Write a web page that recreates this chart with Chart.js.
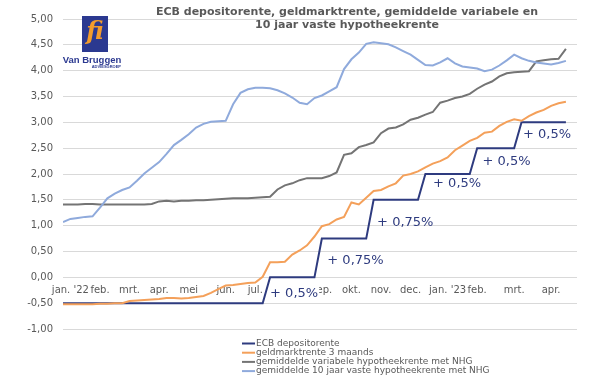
<!DOCTYPE html>
<html>
<head>
<meta charset="utf-8">
<script src="https://cdn.jsdelivr.net/npm/chart.js@4"></script>
<style>
  body { margin: 0; background: #fff; }
</style>
</head>
<body>
<canvas id="myChart" width="600" height="384"></canvas>
<script>
// titel en as-labels
const titleLines = ['ECB depositorente, geldmarktrente, gemiddelde variabele en', '10 jaar vaste hypotheekrente'];
const monthLabels = ["jan. '22", 'feb.', 'mrt.', 'apr.', 'mei', 'jun.', 'jul.', 'aug.', 'sep.', 'okt.', 'nov.', 'dec.', "jan. '23", 'feb.', 'mrt.', 'apr.'];
const monthWeek = [1, 5, 9, 13, 17, 22, 26, 30, 35, 39, 43, 47, 52, 56, 61, 66];

// weekcijfers (week 0 = half jan. 2022)
const ecbRate = [
  -0.5, -0.5, -0.5, -0.5, -0.5, -0.5, -0.5, -0.5, -0.5, -0.5,
  -0.5, -0.5, -0.5, -0.5, -0.5, -0.5, -0.5, -0.5, -0.5, -0.5,
  -0.5, -0.5, -0.5, -0.5, -0.5, -0.5, -0.5, -0.5, 0, 0,
  0, 0, 0, 0, 0, 0.75, 0.75, 0.75, 0.75, 0.75,
  0.75, 0.75, 1.5, 1.5, 1.5, 1.5, 1.5, 1.5, 1.5, 2,
  2, 2, 2, 2, 2, 2, 2.5, 2.5, 2.5, 2.5,
  2.5, 2.5, 3, 3, 3, 3, 3, 3, 3
];
const euribor3m = [
  -0.52, -0.52, -0.52, -0.52, -0.52, -0.51, -0.51, -0.50, -0.50, -0.46,
  -0.45, -0.44, -0.43, -0.42, -0.40, -0.40, -0.41, -0.40, -0.38, -0.36,
  -0.30, -0.23, -0.16, -0.15, -0.13, -0.11, -0.10, 0.01, 0.29, 0.29,
  0.30, 0.44, 0.52, 0.62, 0.79, 0.99, 1.03, 1.12, 1.17, 1.45,
  1.41, 1.54, 1.67, 1.69, 1.76, 1.82, 1.97, 2.00, 2.05, 2.13,
  2.20, 2.25, 2.32, 2.46, 2.55, 2.64, 2.70, 2.80, 2.82, 2.93,
  3.01, 3.06, 3.03, 3.12, 3.19, 3.24, 3.32, 3.37, 3.40
];
const variabel = [
  1.41, 1.41, 1.41, 1.42, 1.42, 1.41, 1.41, 1.41, 1.41, 1.41,
  1.41, 1.41, 1.42, 1.47, 1.48, 1.47, 1.48, 1.48, 1.49, 1.49,
  1.50, 1.51, 1.52, 1.53, 1.53, 1.53, 1.54, 1.55, 1.56, 1.70,
  1.78, 1.82, 1.88, 1.92, 1.92, 1.92, 1.96, 2.03, 2.37, 2.40,
  2.52, 2.56, 2.61, 2.79, 2.88, 2.90, 2.96, 3.05, 3.09, 3.15,
  3.20, 3.38, 3.42, 3.47, 3.50, 3.55, 3.65, 3.73, 3.79, 3.89,
  3.95, 3.97, 3.98, 3.99, 4.18, 4.20, 4.22, 4.23, 4.42
];
const vast10 = [
  1.07, 1.13, 1.15, 1.17, 1.18, 1.35, 1.53, 1.62, 1.69, 1.74,
  1.87, 2.01, 2.12, 2.23, 2.39, 2.56, 2.66, 2.77, 2.90, 2.97,
  3.01, 3.02, 3.03, 3.35, 3.57, 3.64, 3.67, 3.67, 3.66, 3.62,
  3.56, 3.48, 3.38, 3.35, 3.47, 3.52, 3.60, 3.68, 4.03, 4.22,
  4.35, 4.52, 4.55, 4.53, 4.51, 4.45, 4.38, 4.31, 4.21, 4.11,
  4.10, 4.16, 4.24, 4.14, 4.08, 4.06, 4.04, 3.99, 4.02, 4.10,
  4.20, 4.31, 4.24, 4.19, 4.16, 4.14, 4.12, 4.15, 4.19
];

// renteverhogingen ECB
const stepLabels = ['+ 0,5%', '+ 0,75%', '+ 0,75%', '+ 0,5%', '+ 0,5%', '+ 0,5%'];
const stepWeek = [28, 35, 42, 49, 56, 62];

const navy = '#2e3b7f';
const textGray = '#595959';
Chart.defaults.font.family = "'DejaVu Sans', Verdana, sans-serif";

// titel, logo, legenda en labels zelf tekenen
const extras = {
  id: 'extras',
  afterDraw(chart) {
    const ctx = chart.ctx;
    const xs = chart.scales.x, ys = chart.scales.y;
    ctx.save();

    // labels bij de stappen
    ctx.font = "13px 'DejaVu Sans'";
    ctx.textBaseline = 'middle';
    ctx.textAlign = 'left';
    const dx = [0, 5.5, 3.5, 7.7, 5.3, 1.5];
    const dy = [16, 22, 22.5, 9.3, 13.5, 12.7];
    stepLabels.forEach(function(t, k) {
      const px = xs.getPixelForValue(stepWeek[k]) + dx[k];
      const py = ys.getPixelForValue(ecbRate[stepWeek[k]]) + dy[k];
      if (k === 0) {
        ctx.fillStyle = '#fff';
        ctx.fillRect(px - 1, py - 7, ctx.measureText(t).width + 2, 14);
      }
      ctx.fillStyle = navy;
      ctx.fillText(t, px, py);
    });

    // titel
    ctx.fillStyle = textGray;
    ctx.textAlign = 'center';
    ctx.font = "bold 11px 'DejaVu Sans'";
    ctx.fillText(titleLines[0], 347, 12);
    ctx.fillText(titleLines[1], 347, 25);

    // logo
    ctx.fillStyle = '#2b3990';
    ctx.fillRect(82, 16, 26, 36);
    ctx.fillStyle = '#f39c2c';
    ctx.font = "italic bold 24px 'DejaVu Serif'";
    ctx.fillText('fi', 95, 33);
    ctx.fillStyle = '#2b3990';
    ctx.font = "bold 9.5px 'Liberation Sans'";
    ctx.fillText('Van Bruggen', 92, 60);
    ctx.font = "bold 4px 'Liberation Sans'";
    ctx.textAlign = 'right';
    ctx.fillText('ADVIESGROEP', 121, 67);

    // legenda
    ctx.textAlign = 'left';
    ctx.font = "9px 'DejaVu Sans'";
    chart.data.datasets.forEach(function(ds, k) {
      const ly = 343.5 + k * 9.2;
      ctx.strokeStyle = ds.borderColor;
      ctx.lineWidth = 2;
      ctx.beginPath();
      ctx.moveTo(242, ly);
      ctx.lineTo(255, ly);
      ctx.stroke();
      ctx.fillStyle = textGray;
      ctx.fillText(ds.label, 256, ly);
    });
    ctx.restore();
  }
};

const data = {
  labels: ecbRate.map((v, i) => i),
  datasets: [
    { label: 'ECB depositorente', data: ecbRate, borderColor: navy, order: 4 },
    { label: 'geldmarktrente 3 maands', data: euribor3m, borderColor: '#f4a05a', order: 3 },
    { label: 'gemiddelde variabele hypotheekrente met NHG', data: variabel, borderColor: '#747474', order: 2 },
    { label: 'gemiddelde 10 jaar vaste hypotheekrente met NHG', data: vast10, borderColor: '#8faadc', order: 1 }
  ]
};

const config = {
  type: 'line',
  data: data,
  options: {
    responsive: false,
    animation: false,
    layout: { padding: { top: 19, bottom: 55, left: 0, right: 23 } },
    elements: {
      point: { radius: 0 },
      line: { borderWidth: 2, tension: 0 }
    },
    plugins: {
      legend: { display: false },
      title: { display: false },
      tooltip: { enabled: false }
    },
    scales: {
      x: {
        type: 'linear',
        position: { y: 0 },
        min: 0,
        max: 69.5,
        grid: { display: false, drawTicks: false },
        border: { display: false },
        afterBuildTicks: function(axis) {
          axis.ticks = monthWeek.map(v => ({ value: v }));
        },
        ticks: {
          autoSkip: false,
          maxRotation: 0,
          padding: 7,
          color: textGray,
          font: { size: 10 },
          callback: (v, i) => monthLabels[i]
        }
      },
      y: {
        min: -1,
        max: 5,
        grid: { color: '#d9d9d9', drawTicks: false },
        border: { display: false },
        afterFit: function(axis) { axis.width = 63; },
        ticks: {
          stepSize: 0.5,
          padding: 10,
          color: textGray,
          font: { size: 10 },
          callback: v => v.toFixed(2).replace('.', ',')
        }
      }
    }
  },
  plugins: [extras]
};

var myChart = new Chart(document.getElementById('myChart'), config);
</script>
</body>
</html>
